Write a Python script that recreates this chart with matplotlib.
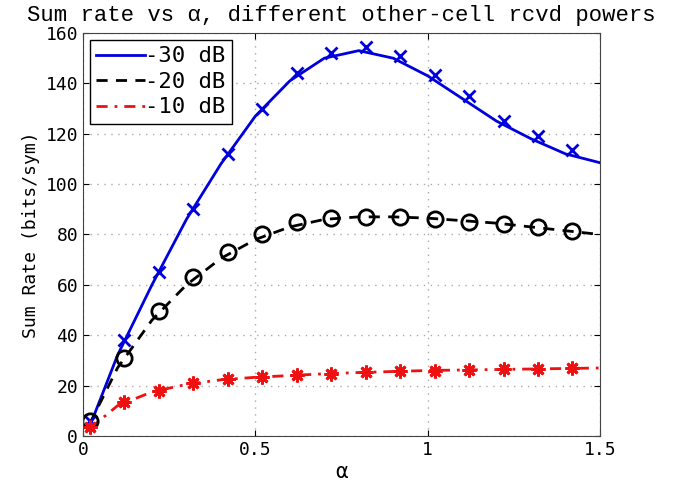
import numpy as np
import matplotlib.pyplot as plt

# analytic curves
x_line = [0.02, 0.1, 0.2, 0.3, 0.4, 0.5, 0.6, 0.7, 0.8, 0.9, 1.0, 1.1, 1.2, 1.3, 1.4, 1.5]
line_30 = [4, 32, 60, 86, 108, 127, 141, 150, 153, 150, 143, 134, 125, 118, 112, 108.5]
line_20 = [5, 27, 46, 60, 70.5, 78, 83, 86, 87, 87, 86.5, 85.5, 84.5, 83, 81.5, 80]
line_10 = [3, 12, 17.5, 20.5, 22.3, 23.3, 24, 24.7, 25.2, 25.6, 26, 26.2, 26.4, 26.6, 26.8, 27]

# simulated points
x_mark = [0.02, 0.12, 0.22, 0.32, 0.42, 0.52, 0.62, 0.72, 0.82, 0.92, 1.02, 1.12, 1.22, 1.32, 1.42]
mark_30 = [6, 38, 65, 90, 112, 130, 144, 152, 154.5, 151, 143.5, 135, 125, 119, 113.5]
mark_20 = [6, 31, 49.5, 63, 73, 80, 85, 86.5, 87, 87, 86, 85, 84, 83, 81.5]
mark_10 = [3.5, 13.5, 18, 21, 22.5, 23.5, 24.2, 24.8, 25.3, 25.7, 26, 26.2, 26.4, 26.6, 26.8]

labels = ['-30 dB', '-20 dB', '-10 dB']

mono = 'DejaVu Sans Mono'
plt.rcParams['font.family'] = mono

fig = plt.figure(figsize=(6.76, 4.84), dpi=100)
ax = fig.add_axes([0.1228, 0.0992, 0.7648, 0.8326])

ax.plot(x_line, line_30, '-', color='#0000dd', lw=2, label=labels[0])
ax.plot(x_line, line_20, '--', color='black', lw=2, dashes=(4, 3), label=labels[1])
ax.plot(x_line, line_10, '-.', color='#ee1111', lw=2, dashes=(4, 2.5, 1, 2.5), label=labels[2])

ax.plot(x_mark, mark_30, 'x', color='#0000dd', ms=8, mew=2)
ax.plot(x_mark, mark_20, 'o', color='black', ms=11, mew=2, mfc='none')
ax.plot(x_mark, mark_10, marker=(8, 2, 0), ls='none', color='#ee1111', ms=10, mew=2)

ax.set_xlim(0, 1.5)
ax.set_ylim(0, 160)
ax.set_xticks([0, 0.5, 1, 1.5])
ax.set_xticklabels(['0', '0.5', '1', '1.5'])
ax.set_yticks(range(0, 161, 20))
ax.tick_params(direction='in', top=True, right=True, labelsize=13, length=4)
ax.grid(True, linestyle=(0, (1, 4)), color='#aaaaaa', lw=1)
for s in ax.spines.values():
    s.set_color('#444444')

ax.set_xlabel('α', fontsize=15, labelpad=2)
ax.set_ylabel('Sum Rate (bits/sym)', fontsize=13)
ax.set_title('Sum rate vs α, different other-cell rcvd powers',
             fontsize=16, family='Liberation Mono', pad=9)

leg = ax.legend(loc='upper left', fontsize=16, frameon=True, fancybox=False,
                handlelength=2.2, handletextpad=0.0, borderpad=0.3,
                labelspacing=0.25, borderaxespad=0.3)
leg.get_frame().set_edgecolor('black')
leg.get_frame().set_linewidth(1)
leg.get_frame().set_alpha(1)

fig.savefig('out.png')
